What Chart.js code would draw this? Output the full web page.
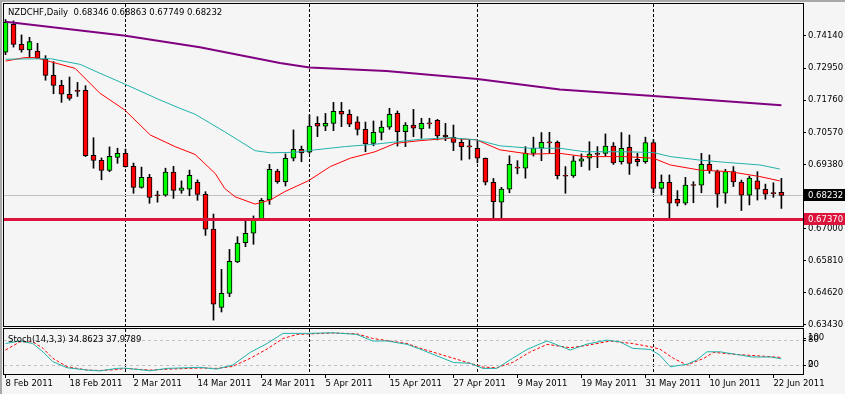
<!DOCTYPE html>
<html>
<head>
<meta charset="utf-8">
<title>NZDCHF Daily</title>
<script src="https://cdn.jsdelivr.net/npm/chart.js@4.4.0/dist/chart.umd.min.js"></script>
<style>
  html, body { margin: 0; padding: 0; background: #f5f5f5; }
  #wrap { position: relative; width: 845px; height: 394px; overflow: hidden; }
  canvas { position: absolute; left: 0; }
  #priceChart { top: 0; }
  #stochChart { top: 328px; }
</style>
</head>
<body>
<div id="wrap">
  <canvas id="priceChart" width="845" height="328"></canvas>
  <canvas id="stochChart" width="845" height="66"></canvas>
</div>
<script>
// NZDCHF daily bars, bar 0 = 8 Feb 2011, last bar = 23 Jun 2011
const opens = [
  0.7354, 0.7457, 0.7383, 0.7362, 0.7358, 0.7328, 0.7268, 0.7231, 0.7198, 0.7210,
  0.7213, 0.6972, 0.6953, 0.6916, 0.6964, 0.6979, 0.6931, 0.6853, 0.6890, 0.6823,
  0.6824, 0.6910, 0.6842, 0.6846, 0.6872, 0.6827, 0.6698, 0.6408, 0.6460, 0.6577,
  0.6648, 0.6683, 0.6737, 0.6806, 0.6913, 0.6874, 0.6961, 0.6994, 0.6983, 0.7090,
  0.7080, 0.7090, 0.7135, 0.7124, 0.7096, 0.7068, 0.7016, 0.7057, 0.7076, 0.7127,
  0.7059, 0.7084, 0.7070, 0.7090, 0.7101, 0.7047, 0.7038, 0.7020, 0.7005, 0.6998,
  0.6961, 0.6872, 0.6798, 0.6846, 0.6925, 0.6924, 0.6979, 0.6998, 0.7019, 0.7020,
  0.6895, 0.6895, 0.6950, 0.6961, 0.6976, 0.6979, 0.7006, 0.6948, 0.7001, 0.6957,
  0.6948, 0.7019, 0.6849, 0.6872, 0.6809, 0.6794, 0.6861, 0.6861, 0.6938, 0.6911,
  0.6831, 0.6911, 0.6873, 0.6824, 0.6877, 0.6846, 0.6831, 0.68346
];
const highs = [
  0.7475, 0.7470, 0.7418, 0.7409, 0.7387, 0.7341, 0.7319, 0.7250, 0.7262, 0.7242,
  0.7230, 0.7037, 0.6962, 0.7003, 0.6998, 0.6995, 0.6943, 0.6928, 0.6901, 0.6839,
  0.6924, 0.6931, 0.6877, 0.6917, 0.6881, 0.6837, 0.6754, 0.6549, 0.6623, 0.6670,
  0.6729, 0.6747, 0.6812, 0.6938, 0.6920, 0.6977, 0.7066, 0.7006, 0.7121, 0.7115,
  0.7127, 0.7168, 0.7168, 0.7140, 0.7115, 0.7095, 0.7099, 0.7099, 0.7146, 0.7136,
  0.7093, 0.7142, 0.7109, 0.7109, 0.7105, 0.7090, 0.7084, 0.7031, 0.7031, 0.7026,
  0.6962, 0.6886, 0.6853, 0.6970, 0.6952, 0.7004, 0.7039, 0.7056, 0.7057, 0.7025,
  0.6930, 0.6969, 0.6977, 0.7022, 0.7004, 0.7051, 0.7019, 0.7056, 0.7047, 0.6979,
  0.7039, 0.7029, 0.6899, 0.6899, 0.6841, 0.6890, 0.6874, 0.6979, 0.6973, 0.6917,
  0.6920, 0.6930, 0.6880, 0.6895, 0.6911, 0.6865, 0.6870, 0.68863
];
const lows = [
  0.7345, 0.7373, 0.7354, 0.7334, 0.7330, 0.7250, 0.7200, 0.7168, 0.7176, 0.7190,
  0.6967, 0.6924, 0.6881, 0.6911, 0.6942, 0.6928, 0.6831, 0.6850, 0.6794, 0.6798,
  0.6820, 0.6812, 0.6831, 0.6822, 0.6805, 0.6675, 0.6361, 0.6391, 0.6448, 0.6574,
  0.6633, 0.6642, 0.6732, 0.6790, 0.6868, 0.6858, 0.6951, 0.6948, 0.6979, 0.7041,
  0.7063, 0.7063, 0.7078, 0.7078, 0.7047, 0.6985, 0.7007, 0.7029, 0.7068, 0.7006,
  0.7004, 0.7041, 0.7035, 0.7072, 0.7029, 0.7026, 0.6989, 0.6954, 0.6958, 0.6944,
  0.6862, 0.6738, 0.6735, 0.6833, 0.6903, 0.6887, 0.6969, 0.6952, 0.6979, 0.6884,
  0.6831, 0.6890, 0.6930, 0.6917, 0.6926, 0.6969, 0.6938, 0.6939, 0.6901, 0.6932,
  0.6942, 0.6833, 0.6825, 0.6732, 0.6784, 0.6788, 0.6796, 0.6833, 0.6905, 0.6779,
  0.6794, 0.6856, 0.6767, 0.6788, 0.6806, 0.6809, 0.6816, 0.67749
];
const closes = [
  0.7465, 0.7383, 0.7362, 0.7393, 0.7331, 0.7268, 0.7231, 0.7198, 0.7183, 0.7209,
  0.6970, 0.6953, 0.6916, 0.6968, 0.6979, 0.6930, 0.6853, 0.6890, 0.6816, 0.6822,
  0.6910, 0.6842, 0.6851, 0.6898, 0.6827, 0.6698, 0.6420, 0.6460, 0.6579, 0.6646,
  0.6683, 0.6738, 0.6805, 0.6920, 0.6874, 0.6961, 0.6994, 0.6981, 0.7080, 0.7080,
  0.7090, 0.7135, 0.7124, 0.7087, 0.7068, 0.7014, 0.7057, 0.7076, 0.7124, 0.7059,
  0.7084, 0.7072, 0.7090, 0.7088, 0.7044, 0.7040, 0.7020, 0.7004, 0.7003, 0.6961,
  0.6872, 0.6800, 0.6847, 0.6938, 0.6924, 0.6979, 0.6998, 0.7020, 0.7018, 0.6896,
  0.6894, 0.6951, 0.6959, 0.6976, 0.6975, 0.7006, 0.6944, 0.6998, 0.6942, 0.6948,
  0.7019, 0.6849, 0.6872, 0.6794, 0.6794, 0.6861, 0.6860, 0.6938, 0.6915, 0.6828,
  0.6911, 0.6873, 0.6824, 0.6887, 0.6846, 0.6828, 0.6830, 0.68232
];

// x axis labels, one every 8 bars
const dateTickIdx = [0, 8, 16, 24, 32, 40, 48, 56, 64, 72, 80, 88, 96];
const dateLabels = ['8 Feb 2011', '18 Feb 2011', '2 Mar 2011', '14 Mar 2011', '24 Mar 2011',
  '5 Apr 2011', '15 Apr 2011', '27 Apr 2011', '9 May 2011', '19 May 2011',
  '31 May 2011', '10 Jun 2011', '22 Jun 2011'];
// first bar of each month -> dashed separator
const monthStartIdx = [15, 38, 59, 81];

const priceTicks = [0.7414, 0.7295, 0.7176, 0.7057, 0.6938, 0.6819, 0.6700, 0.6581, 0.6462, 0.6343];
const supportLevel = 0.6737;

// moving averages (bar position, value)
const maFastIdx = [0, 2.4, 3.7, 5.6, 8.7, 11.8, 14.9, 18.1, 21.2, 23.7, 26.2, 27.4, 28.7, 31.2, 33.1,
  34.9, 37.9, 40.6, 43.1, 46.2, 48.7, 51.8, 55.6, 58.9, 61.8, 65.6, 69.3, 72.4, 77.4, 81,
  83.1, 86.8, 90.6, 94.3, 96.8];
const maFast = [0.7321, 0.7334, 0.7334, 0.7319, 0.7294, 0.7202, 0.7140, 0.7047, 0.7004, 0.6975,
  0.6905, 0.6849, 0.6818, 0.6791, 0.6806, 0.6837, 0.6878, 0.6930, 0.6961, 0.6985, 0.7016,
  0.7026, 0.7035, 0.7029, 0.6992, 0.6976, 0.6979, 0.6967, 0.6967, 0.6961, 0.6936, 0.6917,
  0.6911, 0.6893, 0.6877];
const maSlowIdx = [0, 5.6, 9.3, 11.8, 14.9, 19.3, 21.8, 23.7, 27.4, 31.2, 33.1, 36.2, 38.7, 42.4,
  46.2, 51.8, 55.6, 58.9, 61.8, 65.6, 69.3, 72.4, 77.4, 81, 83.1, 86.8, 89.9, 94.3, 96.8];
const maSlow = [0.7328, 0.7330, 0.7309, 0.7276, 0.7236, 0.7177, 0.7146, 0.7124, 0.7059, 0.6989,
  0.6981, 0.6983, 0.6992, 0.7004, 0.7013, 0.7031, 0.7037, 0.7029, 0.7007, 0.6998, 0.6998,
  0.6985, 0.6985, 0.6982, 0.6967, 0.6954, 0.6946, 0.6936, 0.6921];
const maLongIdx = [0, 15, 24.3, 34.3, 38, 47.6, 59, 69.3, 81, 97];
const maLong = [0.7467, 0.7415, 0.7372, 0.7314, 0.7297, 0.7284, 0.7255, 0.7216, 0.7192, 0.7157];

// Stochastic(14,3,3)
const stochKIdx = [0, 1.8, 3.4, 4.7, 5.9, 7.7, 10.2, 11.8, 13.9, 14.9, 18.1, 20.2, 24.3, 26.4, 28.4,
  30.6, 32.7, 34.7, 37.7, 40.9, 43.9, 45.9, 47.7, 50.2, 51.8, 56, 58.1, 59.7, 61.4, 63.4,
  65.2, 67.7, 70.6, 72.7, 75.2, 76.8, 78.4, 80.6, 81.8, 83.1, 85.2, 86.4, 87.7, 89.3, 91.4,
  93.4, 95.6, 97];
const stochK = [71, 77, 71, 51, 28, 13.5, 8, 6, 12, 12.6, 6.4, 12, 14.5, 10.4, 20,
  50, 71, 95, 95, 96.5, 92.6, 77, 77, 69, 58, 26, 24, 12, 12, 36,
  57, 77, 55.5, 69.7, 79, 75, 59.5, 57, 43.6, 16, 21.6, 31.8, 51.4, 51.4, 45,
  39, 39, 34.8623];
const stochDIdx = [0, 1.8, 3.4, 4.7, 5.9, 7.7, 10.2, 11.8, 13.9, 14.9, 18.1, 20.2, 24.3, 26.4, 28.4,
  30.6, 32.7, 34.7, 36.5, 40.9, 43.9, 45.9, 47.7, 50.2, 51.8, 56, 58.1, 59.7, 61.4, 63.4,
  65.5, 67.7, 70.6, 72.7, 75.6, 78.4, 80.6, 81.8, 83.5, 85.2, 87.3, 88.5, 91.4, 97];
const stochD = [55.5, 75, 75, 59.5, 36, 16, 8, 7, 9, 12, 8, 10, 13, 12, 16.6,
  36, 58, 83, 92.6, 96, 94, 83, 78, 71, 60, 36, 24, 15, 13.5, 26,
  50, 69, 61, 66.6, 76.8, 71, 63.3, 57.8, 35.8, 20, 35.8, 50, 45, 37.9789];
const stochLevels = [20, 80];

const FONT = { family: '"DejaVu Sans", Verdana, sans-serif', size: 8.5 };
const FONT_CSS = '8.5px "DejaVu Sans", Verdana, sans-serif';
Chart.defaults.font.family = FONT.family;
Chart.defaults.font.size = FONT.size;
Chart.defaults.color = '#000';

const X_MIN = -0.19, X_MAX = 99.7;
const last = closes.length - 1;
const pts = (xs, ys) => xs.map((x, i) => ({ x: x, y: ys[i] }));

const candleBodies = opens.map((o, i) => ({ x: i, y: [o, closes[i]] }));
const candleWicks = lows.map((l, i) => ({ x: i, y: [l, highs[i]] }));
const bodyColors = opens.map((o, i) => closes[i] >= o ? '#00ff00' : '#ff0000');

function drawFrameStrips(chart) {
  const ctx = chart.ctx;
  ctx.save();
  ctx.fillStyle = '#a9a9a9';
  ctx.fillRect(0, 0, 2, chart.height);
  if (chart.canvas.id === 'priceChart') ctx.fillRect(0, 0, chart.width, 2);
  ctx.restore();
}

function drawMonthLines(chart) {
  const { ctx, chartArea: a, scales: { x } } = chart;
  ctx.save();
  ctx.strokeStyle = '#000';
  ctx.lineWidth = 1;
  ctx.setLineDash([3, 2]);
  monthStartIdx.forEach(i => {
    const px = Math.floor(x.getPixelForValue(i)) + 0.5;
    ctx.beginPath();
    ctx.moveTo(px, a.top);
    ctx.lineTo(px, a.bottom);
    ctx.stroke();
  });
  ctx.restore();
}

function drawBorder(chart) {
  const { ctx, chartArea: a } = chart;
  ctx.save();
  ctx.strokeStyle = '#000';
  ctx.lineWidth = 1;
  ctx.strokeRect(a.left - 0.5, a.top - 0.5, a.width + 1, a.height + 1);
  ctx.restore();
}

function priceBox(chart, value, bg) {
  const { ctx, chartArea: a, scales: { y } } = chart;
  const py = Math.round(y.getPixelForValue(value));
  ctx.save();
  ctx.fillStyle = bg;
  ctx.fillRect(a.right + 1, py - 6, chart.width - a.right - 1, 12);
  ctx.fillStyle = '#fff';
  ctx.font = FONT_CSS;
  ctx.textBaseline = 'middle';
  ctx.fillText(value.toFixed(5), a.right + 5, py + 0.5);
  ctx.restore();
}

const pricePanel = {
  id: 'pricePanel',
  beforeDraw: drawFrameStrips,
  beforeDatasetsDraw(chart) {
    const { ctx, chartArea: a, scales: { y } } = chart;
    drawMonthLines(chart);
    // current price line
    const py = Math.round(y.getPixelForValue(closes[last])) + 0.5;
    ctx.save();
    ctx.strokeStyle = '#c0c0c0';
    ctx.lineWidth = 1;
    ctx.beginPath();
    ctx.moveTo(a.left, py);
    ctx.lineTo(a.right, py);
    ctx.stroke();
    ctx.restore();
  },
  afterDatasetsDraw(chart) {
    const { ctx, chartArea: a, scales: { y } } = chart;
    const py = Math.round(y.getPixelForValue(supportLevel)) + 0.5;
    ctx.save();
    ctx.strokeStyle = '#dc143c';
    ctx.lineWidth = 3;
    ctx.beginPath();
    ctx.moveTo(a.left, py);
    ctx.lineTo(a.right, py);
    ctx.stroke();
    ctx.restore();
  },
  afterDraw(chart) {
    const { ctx, chartArea: a } = chart;
    drawBorder(chart);
    ctx.save();
    ctx.font = FONT_CSS;
    ctx.fillStyle = '#000';
    ctx.textBaseline = 'middle';
    const title = 'NZDCHF,Daily  ' + [opens[last], highs[last], lows[last], closes[last]]
      .map(v => v.toFixed(5)).join(' ');
    ctx.fillText(title, a.left + 4, a.top + 9);
    ctx.restore();
    priceBox(chart, closes[last], '#000');
    priceBox(chart, supportLevel, '#dc143c');
  }
};

const stochPanel = {
  id: 'stochPanel',
  beforeDraw: drawFrameStrips,
  beforeDatasetsDraw(chart) {
    const { ctx, chartArea: a, scales: { y } } = chart;
    drawMonthLines(chart);
    ctx.save();
    ctx.strokeStyle = '#c0c0c0';
    ctx.lineWidth = 1;
    ctx.setLineDash([3, 3]);
    stochLevels.forEach(lv => {
      const py = Math.round(y.getPixelForValue(lv)) + 0.5;
      ctx.beginPath();
      ctx.moveTo(a.left, py);
      ctx.lineTo(a.right, py);
      ctx.stroke();
    });
    ctx.restore();
  },
  afterDraw(chart) {
    const { ctx, chartArea: a, scales: { y } } = chart;
    drawBorder(chart);
    ctx.save();
    ctx.font = FONT_CSS;
    ctx.fillStyle = '#000';
    ctx.textBaseline = 'middle';
    ctx.fillText('Stoch(14,3,3) ' + stochK[stochK.length - 1].toFixed(4) + ' ' +
      stochD[stochD.length - 1].toFixed(4), a.left + 4, y.getPixelForValue(80));
    // scale labels: 100/80 and 20/0 collide in this short pane
    const axisLabels = [[100, Math.max(y.getPixelForValue(100), a.top + 9)],
      [80, y.getPixelForValue(80)], [20, y.getPixelForValue(20)],
      [0, Math.min(y.getPixelForValue(0), a.bottom - 9)]];
    ctx.strokeStyle = '#000';
    axisLabels.forEach(([v, py]) => {
      ctx.fillText(String(v), a.right + 5, py);
      ctx.beginPath();
      ctx.moveTo(a.right, Math.round(py) + 0.5);
      ctx.lineTo(a.right + 3, Math.round(py) + 0.5);
      ctx.stroke();
    });
    ctx.restore();
  }
};

new Chart(document.getElementById('priceChart'), {
  type: 'bar',
  data: {
    datasets: [
      { type: 'line', label: 'MA long', data: pts(maLongIdx, maLong), borderColor: '#800080',
        borderWidth: 2, pointRadius: 0, order: -3 },
      { type: 'line', label: 'MA slow', data: pts(maSlowIdx, maSlow), borderColor: '#20b2aa',
        borderWidth: 1, pointRadius: 0, order: -2 },
      { type: 'line', label: 'MA fast', data: pts(maFastIdx, maFast), borderColor: '#ff0000',
        borderWidth: 1, pointRadius: 0, order: -1 },
      { label: 'body', data: candleBodies, backgroundColor: bodyColors, borderColor: '#000',
        borderWidth: 1, borderSkipped: false, barThickness: 5, minBarLength: 1, grouped: false, order: 0 },
      { label: 'wick', data: candleWicks, backgroundColor: '#000', borderWidth: 0,
        barThickness: 1, grouped: false, order: 1 }
    ]
  },
  options: {
    responsive: false,
    animation: false,
    events: [],
    layout: { padding: { left: 4, top: 4, right: 0, bottom: 2 } },
    plugins: { legend: { display: false }, tooltip: { enabled: false } },
    scales: {
      x: { type: 'linear', min: X_MIN, max: X_MAX, offset: false, display: false },
      y: {
        position: 'right',
        min: 0.63391,
        max: 0.75326,
        beginAtZero: false,
        border: { display: false },
        grid: { drawOnChartArea: false, tickLength: 3, tickColor: '#000' },
        ticks: { autoSkip: false, padding: 2, color: '#000', callback: v => v.toFixed(5) },
        afterBuildTicks: scale => { scale.ticks = priceTicks.map(v => ({ value: v })); },
        afterFit: scale => { scale.width = 42; scale.paddingTop = 0; scale.paddingBottom = 0; }
      }
    }
  },
  plugins: [pricePanel]
});

new Chart(document.getElementById('stochChart'), {
  type: 'line',
  data: {
    datasets: [
      { label: 'Main', data: pts(stochKIdx, stochK), borderColor: '#20b2aa', borderWidth: 1, pointRadius: 0 },
      { label: 'Signal', data: pts(stochDIdx, stochD), borderColor: '#ff0000', borderWidth: 1,
        borderDash: [3, 2], pointRadius: 0 }
    ]
  },
  options: {
    responsive: false,
    animation: false,
    events: [],
    layout: { padding: { left: 4, right: 42, top: 1, bottom: 0 } },
    plugins: { legend: { display: false }, tooltip: { enabled: false } },
    scales: {
      x: {
        type: 'linear', min: X_MIN, max: X_MAX, offset: false,
        border: { display: false },
        grid: { drawOnChartArea: false, tickLength: 4, tickColor: '#000' },
        ticks: { align: 'start', autoSkip: false, maxRotation: 0, minRotation: 0, padding: 1,
          color: '#000', callback: (v, i) => dateLabels[i] },
        afterBuildTicks: scale => { scale.ticks = dateTickIdx.map(v => ({ value: v })); },
        afterFit: scale => { scale.height = 20; scale.paddingLeft = 0; scale.paddingRight = 0; }
      },
      y: { display: false, min: -1.3, max: 105.4 }
    }
  },
  plugins: [stochPanel]
});
</script>
</body>
</html>
